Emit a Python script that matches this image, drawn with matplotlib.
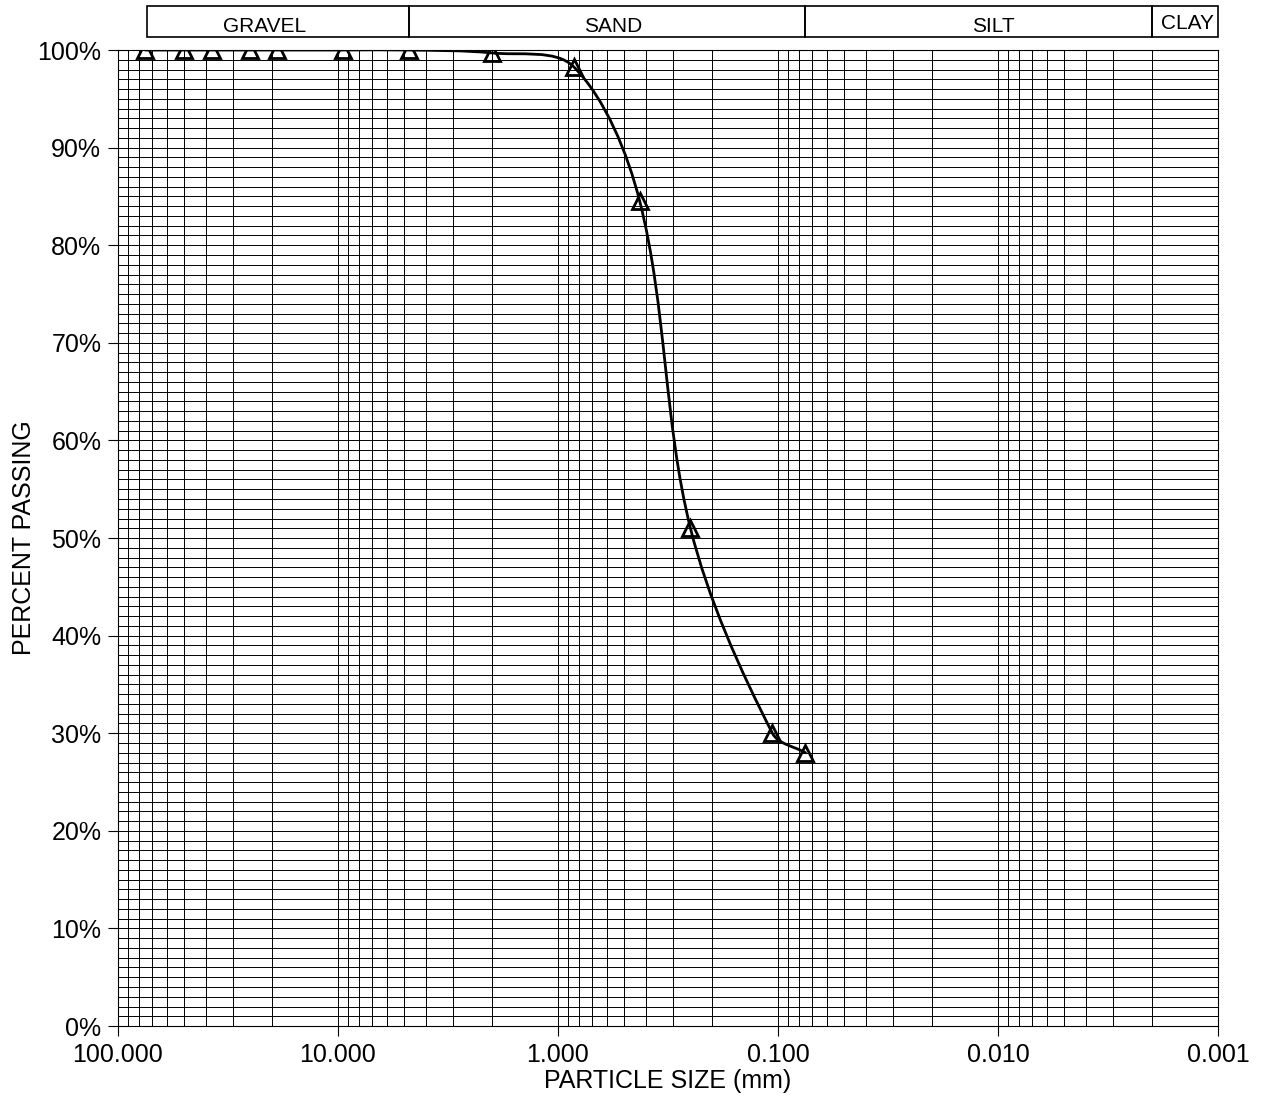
import numpy as np
import matplotlib
matplotlib.use("Agg")
import matplotlib.pyplot as plt
import matplotlib.transforms as mtransforms
from matplotlib.path import Path
from matplotlib.patches import PathPatch, Rectangle
from matplotlib.ticker import FixedLocator, FuncFormatter, NullFormatter

plt.rcParams['font.family'] = ['Liberation Sans', 'DejaVu Sans']

# sieve data
sieve_mm = [75, 50, 37.5, 25, 19, 9.5, 4.75, 2.0, 0.85, 0.425, 0.25, 0.106, 0.075]
passing = [100, 100, 100, 100, 100, 100, 100, 99.7, 98.3, 84.5, 51.0, 30.0, 28.0]

# soil classification band
soil_names = ['GRAVEL', 'SAND', 'SILT', 'CLAY']
soil_bounds = [74, 4.75, 0.075, 0.002, 0.001]
label_x = [21.5, 0.56, 0.0105, 0.00138]

x_ticks = [100, 10, 1, 0.1, 0.01, 0.001]
y_ticks = list(range(0, 101, 10))

fig = plt.figure(figsize=(12.63, 11.09), dpi=100)
rect = [0.0934, 0.0748, 0.8710, 0.8801]
ax = fig.add_axes(rect)

ax.set_xscale('log')
ax.set_xlim(100, 0.001)
ax.set_ylim(0, 100)

# grid: every 1..9 per decade, every 1 %
minor_x = [m * 10.0 ** e for e in range(-3, 2) for m in range(1, 10)]
ax.xaxis.set_major_locator(FixedLocator(x_ticks))
ax.xaxis.set_minor_locator(FixedLocator(minor_x))
ax.xaxis.set_major_formatter(FuncFormatter(lambda v, p: '%.3f' % v))
ax.xaxis.set_minor_formatter(NullFormatter())
ax.yaxis.set_major_locator(FixedLocator(y_ticks))
ax.yaxis.set_minor_locator(FixedLocator(range(0, 101)))
ax.yaxis.set_major_formatter(FuncFormatter(lambda v, p: '%d%%' % v))
ax.grid(which='both', color='black', linewidth=0.7)
ax.tick_params(which='major', direction='out', length=7, width=0.8, labelsize=18, pad=5)
ax.tick_params(which='minor', length=0)
for s in ax.spines.values():
    s.set_linewidth(0.8)

# smooth curve drawn on an overlay axes in log10 units
cax = fig.add_axes(rect, frameon=False)
cax.set_xlim(2, -3)
cax.set_ylim(0, 100)
cax.axis('off')

sx, sy = 220.0, 9.76  # pixels per decade / per percent, for tangent scaling
pts = np.column_stack([np.log10(sieve_mm) * sx, np.array(passing) * sy])
n = len(pts)
verts = [pts[0]]
codes = [Path.MOVETO]
for i in range(n - 1):
    p0 = pts[max(i - 1, 0)]
    p1 = pts[i]
    p2 = pts[i + 1]
    p3 = pts[min(i + 2, n - 1)]
    d01 = np.hypot(*(p1 - p0))
    d12 = np.hypot(*(p2 - p1))
    d23 = np.hypot(*(p3 - p2))
    c1 = p1 + (p2 - p0) * d12 / (d01 + d12) / 3 if d01 > 0 else p1 + (p2 - p1) / 3
    c2 = p2 - (p3 - p1) * d12 / (d12 + d23) / 3 if d23 > 0 else p2 - (p2 - p1) / 3
    verts += [c1, c2, p2]
    codes += [Path.CURVE4] * 3
verts = np.array(verts) / [sx, sy]
cax.add_patch(PathPatch(Path(verts, codes), fill=False, edgecolor='black',
                        linewidth=2, capstyle='round', joinstyle='round'))

ax.plot(sieve_mm, passing, linestyle='none', marker='^', markersize=11,
        markerfacecolor='none', markeredgecolor='black', markeredgewidth=2, zorder=4)

# classification band above the plot
trans = mtransforms.blended_transform_factory(ax.transData, ax.transAxes)
for name, x0, x1, xt in zip(soil_names, soil_bounds[:-1], soil_bounds[1:], label_x):
    ax.add_patch(Rectangle((x0, 1.0133), x1 - x0, 0.0318, transform=trans,
                           fill=False, edgecolor='black', linewidth=1.2, clip_on=False))
    yt = 1.027 if name == 'CLAY' else 1.024
    ax.text(xt, yt, name, transform=trans, ha='center', va='center', fontsize=15)

ax.set_xlabel('PARTICLE SIZE (mm)', fontsize=18, labelpad=2)
ax.set_ylabel('PERCENT PASSING', fontsize=18, labelpad=1)

fig.savefig('out.png', dpi=100)
